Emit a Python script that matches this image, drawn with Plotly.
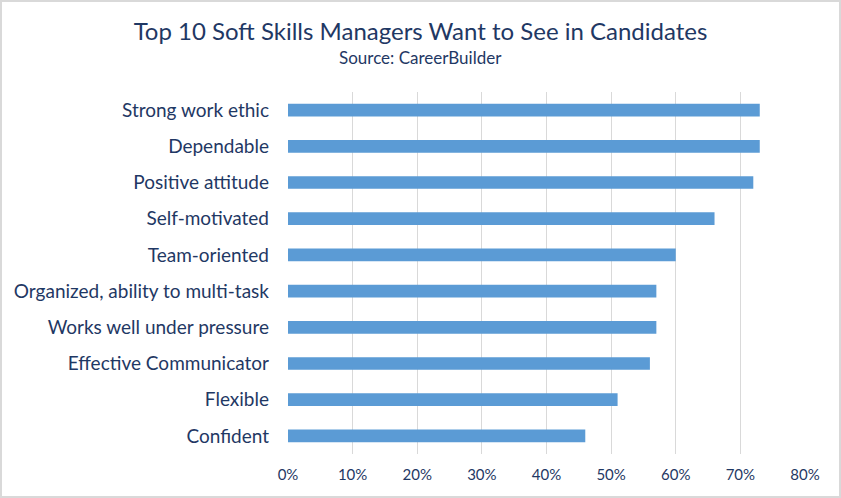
import plotly.graph_objects as go

# Soft skills and share of managers (%), listed bottom to top
skills = ['Confident', 'Flexible', 'Effective Communicator', 'Works well under pressure',
          'Organized, ability to multi-task', 'Team-oriented', 'Self-motivated',
          'Positive attitude', 'Dependable', 'Strong work ethic']
share = [0.46, 0.51, 0.56, 0.57, 0.57, 0.60, 0.66, 0.72, 0.73, 0.73]
x_ticks = [0, 0.1, 0.2, 0.3, 0.4, 0.5, 0.6, 0.7, 0.8]

navy = '#1f3864'
W, H = 841, 498
ml, mr, mt, mb = 288, 36, 92, 44
pw, ph = W - ml - mr, H - mt - mb

fig = go.Figure(go.Bar(x=share, y=skills, orientation='h',
                       marker=dict(color='#5b9bd5', line=dict(width=0))))

fig.update_layout(
    width=W, height=H,
    margin=dict(l=ml, r=mr, t=mt, b=mb),
    paper_bgcolor='white', plot_bgcolor='white',
    font=dict(family='Lato, Carlito, sans-serif', color=navy),
    bargap=0.65,
    showlegend=False,
    title=dict(text='Top 10 Soft Skills Managers Want to See in Candidates',
               x=0.5, xref='container', xanchor='center',
               y=1 - 32 / H, yref='container', yanchor='middle',
               font=dict(size=24, color=navy)),
    annotations=[dict(text='Source: CareerBuilder', xref='paper', yref='paper',
                      x=(W / 2 - ml) / pw, y=(H - mb - 58) / ph,
                      xanchor='center', yanchor='middle', showarrow=False,
                      font=dict(size=17, color=navy))],
    shapes=[dict(type='rect', xref='paper', yref='paper',
                 x0=(1 - ml) / pw, x1=(W - ml - 1) / pw,
                 y0=-(mb - 1) / ph, y1=1 + (mt - 1) / ph,
                 line=dict(color='#d9d9d9', width=2), layer='below')],
)

fig.update_xaxes(range=[0, 0.8], tickvals=x_ticks, tickformat='.0%',
                 showgrid=True, gridcolor='#d9d9d9', gridwidth=1,
                 zeroline=False, showline=False, ticks='',
                 tickfont=dict(size=15, color=navy), ticklabelstandoff=10)
fig.update_yaxes(showgrid=False, showline=False, ticks='',
                 tickfont=dict(size=19, color=navy), ticklabelstandoff=18)

# drop the default page margin so the chart fills the window
fig.write_html('out.html', config={'displayModeBar': False},
               post_script="document.body.style.margin='0';")
